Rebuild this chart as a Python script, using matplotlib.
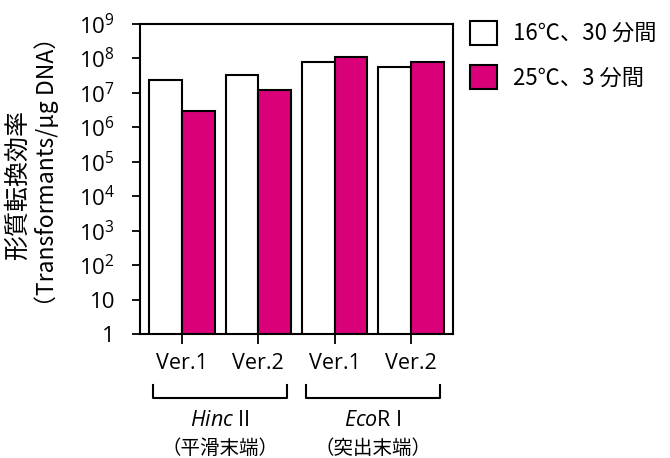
import matplotlib
matplotlib.use("Agg")
import matplotlib.pyplot as plt
import matplotlib.transforms as mtransforms
import numpy as np

plt.rcParams['font.family'] = ['Open Sans', 'Noto Sans CJK JP', 'DejaVu Sans']
plt.rcParams['mathtext.fontset'] = 'custom'
plt.rcParams['mathtext.rm'] = 'Open Sans'
plt.rcParams['mathtext.it'] = 'Open Sans:italic'
cjk = ['Noto Sans CJK JP', 'DejaVu Sans']

# データ
versoes = ["Ver.1", "Ver.2", "Ver.1", "Ver.2"]
valores_16c = [2.4e7, 3.2e7, 7.8e7, 5.8e7]
valores_25c = [3.0e6, 1.2e7, 1.07e8, 7.8e7]
legenda = ["16℃、30 分間", "25℃、3 分間"]
expoentes = list(range(0, 10))
grupos_enzima = ["$\\it{Hinc}$ II", "$\\it{Eco}$R I"]
grupos_ponta = ["（平滑末端）", "（突出末端）"]

cor_rosa = "#d9007a"
fs = 15.5

fig = plt.figure(figsize=(6.7, 4.58), dpi=100)
ax = fig.add_axes([140 / 670, 124 / 458, 313 / 670, 310 / 458])

x = np.arange(len(versoes))
w = 0.43
ax.bar(x - w / 2, valores_16c, w, color="white", edgecolor="black", linewidth=1.5,
       label=legenda[0], zorder=2)
ax.bar(x + w / 2, valores_25c, w, color=cor_rosa, edgecolor="black", linewidth=1.5,
       label=legenda[1], zorder=2)

ax.set_yscale("log")
ax.set_ylim(1, 1e9)
ax.set_xlim(-0.55, 3.55)
ticks_y = [10.0 ** e for e in expoentes]
rotulos_y = ["1", "10"] + ["$\\mathregular{10^{%d}}$" % e for e in expoentes[2:]]
ax.set_yticks(ticks_y)
ax.set_yticklabels(rotulos_y, fontsize=16)
ax.yaxis.set_minor_locator(matplotlib.ticker.NullLocator())
ax.set_xticks(x)
ax.set_xticklabels(versoes, fontsize=fs)
ax.tick_params(axis="y", direction="out", length=6, width=1.3, pad=12)
ax.tick_params(axis="x", direction="out", length=7, width=1.3, pad=7)
for s in ax.spines.values():
    s.set_linewidth(1.5)

# colchetes dos grupos
trans = mtransforms.blended_transform_factory(ax.transData, ax.transAxes)
for i, c in enumerate([0.5, 2.5]):
    xs = [c - 0.88, c - 0.88, c + 0.88, c + 0.88]
    ys = [-0.165, -0.206, -0.206, -0.165]
    ax.plot(xs, ys, color="black", lw=1.5, transform=trans, clip_on=False)
    ax.text(c, -0.278, grupos_enzima[i], transform=trans, ha="center", va="center",
            fontsize=fs)
    ax.text(c, -0.37, grupos_ponta[i], transform=trans, ha="center", va="center",
            fontsize=14, family=cjk)

fig.text(18 / 670, 1 - 185 / 458, "形質転換効率", rotation=90, ha="center", va="center",
         fontsize=18, family=cjk)
fig.text(47 / 670, 1 - 172 / 458, "（Transformants/μg DNA）", rotation=90,
         ha="center", va="center", fontsize=16.5, family=cjk)

fig.legend(loc="upper left", bbox_to_anchor=(470 / 670, 1 - 21 / 458), frameon=False,
           prop={'family': cjk, 'size': 16}, handlelength=1.2, handleheight=1.25,
           labelspacing=0.9, borderpad=0, borderaxespad=0, handletextpad=0.75)

plt.savefig("out.png")
